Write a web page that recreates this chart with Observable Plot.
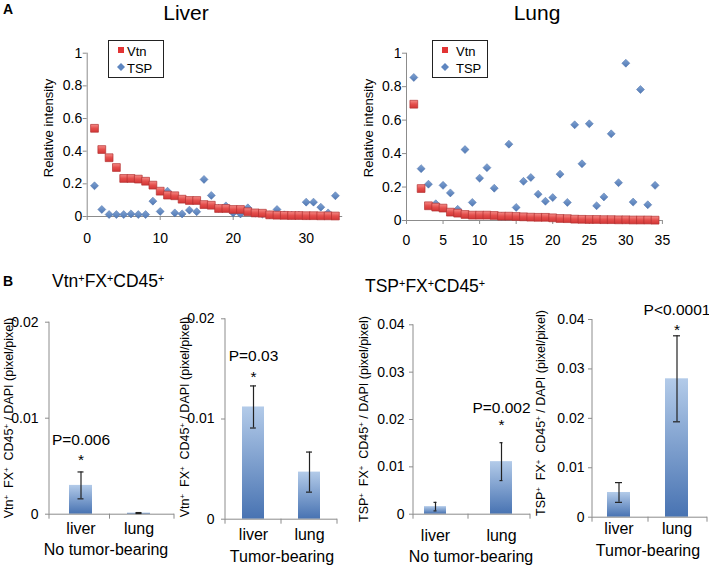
<!DOCTYPE html>
<html><head><meta charset="utf-8">
<script src="https://cdn.jsdelivr.net/npm/d3@7"></script>
<script src="https://cdn.jsdelivr.net/npm/@observablehq/plot@0.6"></script>
<style>
body{margin:0;background:#fff;}
#fig{position:relative;width:709px;height:569px;overflow:hidden;font-family:"Liberation Sans",Arial,Helvetica,sans-serif;color:#000;background:#fff;}
.abs{position:absolute;white-space:nowrap;line-height:1;}
.plotbox{position:absolute;}
sup{font-size:0.62em;vertical-align:0.5em;line-height:0;}
</style></head><body><div id="fig"></div>
<script>
// ---------- DATA ----------
const sampleIdx = d3.range(1, 35);
const liverVtn = [0.54, 0.41, 0.36, 0.30, 0.233, 0.233, 0.229, 0.216, 0.192, 0.155, 0.131, 0.127, 0.106, 0.098, 0.098, 0.073, 0.069, 0.049, 0.049, 0.043, 0.043, 0.029, 0.022, 0.02, 0.01, 0.008, 0.007, 0.006, 0.006, 0.005, 0.005, 0.004, 0.004, 0.003];
const liverTsp = [0.188, 0.043, 0.012, 0.012, 0.012, 0.016, 0.012, 0.012, 0.094, 0.031, 0.155, 0.022, 0.016, 0.039, 0.029, 0.227, 0.129, 0.05, 0.065, 0.022, 0.016, 0.053, 0.02, 0.015, 0.01, 0.043, 0.01, 0.008, 0.008, 0.088, 0.088, 0.057, 0.022, 0.127];
const lungVtn = [0.695, 0.191, 0.088, 0.08, 0.074, 0.05, 0.044, 0.036, 0.032, 0.032, 0.032, 0.03, 0.026, 0.026, 0.024, 0.022, 0.02, 0.019, 0.019, 0.016, 0.012, 0.011, 0.008, 0.007, 0.006, 0.006, 0.005, 0.005, 0.004, 0.004, 0.003, 0.003, 0.003, 0.002];
const lungTsp = [0.855, 0.31, 0.217, 0.1, 0.21, 0.165, 0.067, 0.424, 0.108, 0.253, 0.316, 0.193, 0.025, 0.456, 0.078, 0.234, 0.257, 0.157, 0.115, 0.137, 0.277, 0.108, 0.572, 0.339, 0.578, 0.088, 0.141, 0.518, 0.226, 0.94, 0.11, 0.783, 0.094, 0.21];
const scatterYTicks = [0, 0.2, 0.4, 0.6, 0.8, 1];
const liverXTicks = [0, 10, 20, 30];
const lungXTicks = [0, 5, 10, 15, 20, 25, 30, 35];

const barCats = ["liver", "lung"];
const vtnNoTumorMean = [0.0030, 0.00012];
const vtnNoTumorErr  = [0.0014, 0.00005];
const vtnTumorMean   = [0.0112, 0.0047];
const vtnTumorErr    = [0.0021, 0.0020];
const tspNoTumorMean = [0.0016, 0.0111];
const tspNoTumorErr  = [0.0009, 0.0040];
const tspTumorMean   = [0.0050, 0.0280];
const tspTumorErr    = [0.0020, 0.0087];
const pVtnNoTumor = ["P=0.006", ""];
const pVtnTumor   = ["P=0.03", ""];
const pTspNoTumor = ["", "P=0.002"];
const pTspTumor   = ["", "P<0.0001"];
const vtnYTicks = [0, 0.01, 0.02];
const tspYTicks = [0, 0.01, 0.02, 0.03, 0.04];

// ---------- STYLE ----------
const FONT = '"Liberation Sans", Arial, Helvetica, sans-serif';
const AXIS = "#8c8c8c";
const fig = document.getElementById("fig");

// gradients
const defs = d3.select(fig).append("svg").attr("width", 0).attr("height", 0)
  .style("position", "absolute").append("defs");
function grad(id, stops) {
  const g = defs.append("linearGradient").attr("id", id).attr("x1", 0).attr("y1", 0).attr("x2", 0).attr("y2", 1);
  stops.forEach(([o, c]) => g.append("stop").attr("offset", o).attr("stop-color", c));
}
grad("vtnGrad", [[0, "#f58a86"], [0.5, "#e44e4c"], [1, "#d23636"]]);
grad("tspGrad", [[0, "#7fa2d2"], [1, "#5078b4"]]);
grad("barGrad", [[0, "#b3cbe9"], [1, "#4873b2"]]);

function addText(html, x, y, {size = 15, anchor = "middle", rotate = 0, weight = "normal"} = {}) {
  const d = document.createElement("div");
  d.className = "abs";
  d.innerHTML = html;
  d.style.left = x + "px";
  d.style.top = y + "px";
  d.style.fontSize = size + "px";
  d.style.fontWeight = weight;
  const tx = anchor === "middle" ? "-50%" : anchor === "end" ? "-100%" : "0";
  d.style.transform = `translate(${tx},-50%)` + (rotate ? ` rotate(${rotate}deg)` : "");
  fig.appendChild(d);
  return d;
}

function place(plot, L, T) {
  const wrap = document.createElement("div");
  wrap.className = "plotbox";
  wrap.style.left = L + "px";
  wrap.style.top = T + "px";
  wrap.appendChild(plot);
  fig.appendChild(wrap);
}

function plotStyle(size) {
  return {fontFamily: FONT, fontSize: size + "px", color: "#000", background: "transparent", overflow: "visible"};
}

// ---------- SCATTER PANELS ----------
function scatter({box, frame, vtn, tsp, xTicks, xPad}) {
  const [L, T, W, H] = box;
  const [fx0, fx1, fy0, fy1] = frame;
  const tspRows = sampleIdx.map((s, i) => ({s, v: tsp[i]}));
  const vtnRows = sampleIdx.map((s, i) => ({s, v: vtn[i]}));
  const plot = Plot.plot({
    width: W, height: H,
    marginLeft: fx0 - L, marginRight: L + W - fx1, marginTop: fy0 - T, marginBottom: T + H - fy1,
    style: plotStyle(14),
    x: {domain: [0, 35]},
    y: {domain: [0, 1]},
    marks: [
      Plot.ruleY([0], {stroke: AXIS}),
      Plot.ruleX([0], {stroke: AXIS}),
      Plot.axisX({ticks: xTicks, tickSize: 4, tickPadding: xPad, tickFormat: d => String(d), stroke: AXIS, fill: "#000", label: null, fontSize: 14}),
      Plot.axisY({ticks: scatterYTicks, tickSize: 4, tickPadding: 1, tickFormat: d => String(d), stroke: AXIS, fill: "#000", label: null, fontSize: 14}),
      Plot.dot(tspRows, {x: "s", y: "v", symbol: "diamond2", r: 3.6, fill: "url(#tspGrad)", stroke: "#4a6fa8", strokeWidth: 0.5}),
      Plot.dot(vtnRows, {x: "s", y: "v", symbol: "square", r: 4.4, fill: "url(#vtnGrad)", stroke: "#b33232", strokeWidth: 0.7})
    ]
  });
  place(plot, L, T);
}

scatter({box: [0, 30, 355, 225], frame: [86.7, 342.2, 52.7, 216], vtn: liverVtn, tsp: liverTsp, xTicks: liverXTicks, xPad: 13});
scatter({box: [355, 30, 354, 225], frame: [406, 661.9, 52.7, 220], vtn: lungVtn, tsp: lungTsp, xTicks: lungXTicks, xPad: 11});

function legend(x0, y0, symX, textX) {
  const box = document.createElement("div");
  box.className = "abs";
  box.style.left = x0 + "px"; box.style.top = y0 + "px";
  box.style.width = "54px"; box.style.height = "36px";
  box.style.border = "1px solid #222";
  box.style.background = "#fff";
  fig.appendChild(box);
  addText('<svg width="6" height="6" style="display:block"><rect width="6" height="6" fill="#e23434"/></svg>', symX, y0 + 10, {anchor: "middle"});
  addText('<svg width="8" height="8" style="display:block"><path d="M4,0L8,4L4,8L0,4Z" fill="#5e86c0"/></svg>', symX, y0 + 27, {anchor: "middle"});
  addText("Vtn", textX, y0 + 10.5, {size: 13, anchor: "start"});
  addText("TSP", textX, y0 + 27.5, {size: 13, anchor: "start"});
}
legend(108, 40, 120.5, 127);
legend(432, 40, 444.5, 456);

addText("A", 3, 9, {size: 14, anchor: "start", weight: "bold"});
addText("Liver", 186, 12, {size: 21});
addText("Lung", 537, 12, {size: 21});
addText("Relative intensity", 48, 128, {size: 13, rotate: -90});
addText("Relative intensity", 368, 128, {size: 13, rotate: -90});

// ---------- BAR PANELS ----------
function bars({box, frame, band, pad, means, errs, pLabels, yTicks, yPad, catPad, capInset, pDy, starDy}) {
  const [L, T, W, H] = box;
  const [fx0, fx1, fy0, fy1] = frame;
  const rows = barCats.map((c, i) => ({cat: c, v: means[i], e: errs[i], p: pLabels[i]}));
  const sig = rows.filter(d => d.p);
  const bandMid = (band[0] + band[1]) / 2 - L;
  const axisLines = (index, scales, values, dims) => {
    const {width, height, marginLeft, marginRight, marginTop, marginBottom} = dims;
    const g = d3.create("svg:g").attr("stroke", AXIS).attr("stroke-width", 1).attr("fill", "none");
    const xl = marginLeft, xr = width - marginRight, yb = height - marginBottom, yt = marginTop;
    g.append("line").attr("x1", xl).attr("x2", xl).attr("y1", yt).attr("y2", yb);
    for (const x of [xl, bandMid, xr]) g.append("line").attr("x1", x).attr("x2", x).attr("y1", yb).attr("y2", yb + 5);
    return g.node();
  };
  const plot = Plot.plot({
    width: W, height: H,
    marginLeft: fx0 - L, marginRight: L + W - fx1, marginTop: fy0 - T, marginBottom: T + H - fy1,
    style: plotStyle(14),
    x: {domain: barCats, range: [band[0] - L, band[1] - L], paddingInner: pad, paddingOuter: pad / 2},
    y: {domain: [0, yTicks[yTicks.length - 1]]},
    marks: [
      Plot.barY(rows, {x: "cat", y: "v", fill: "url(#barGrad)"}),
      Plot.ruleY([0], {stroke: AXIS}),
      axisLines,
      Plot.axisY({ticks: yTicks, tickSize: 4, tickPadding: yPad, tickFormat: d => String(d), stroke: AXIS, fill: "#000", label: null, fontSize: 14}),
      Plot.axisX({tickSize: 0, tickPadding: catPad, fill: "#000", label: null, fontSize: 16}),
      Plot.ruleX(rows, {x: "cat", y1: d => d.v - d.e, y2: d => d.v + d.e, stroke: "#222", strokeWidth: 1.2}),
      Plot.tickY(rows, {x: "cat", y: d => d.v + d.e, insetLeft: capInset, insetRight: capInset, stroke: "#222", strokeWidth: 1.2}),
      Plot.tickY(rows, {x: "cat", y: d => d.v - d.e, insetLeft: capInset, insetRight: capInset, stroke: "#222", strokeWidth: 1.2}),
      Plot.text(sig, {x: "cat", y: d => d.v + d.e, text: "p", dy: pDy, fontSize: 15.5, fill: "#000"}),
      Plot.text(sig, {x: "cat", y: d => d.v + d.e, text: () => "*", dy: starDy, fontSize: 15.5, fill: "#000"})
    ]
  });
  place(plot, L, T);
}

bars({box: [0, 295, 178, 274], frame: [49, 174, 321.7, 513.7], band: [51, 168], pad: 0.6,
  means: vtnNoTumorMean, errs: vtnNoTumorErr, pLabels: pVtnNoTumor, yTicks: vtnYTicks, yPad: 7, catPad: 8, capInset: 8.5, pDy: -31.5, starDy: -12});
bars({box: [178, 295, 175, 274], frame: [225, 337, 318.3, 518.7], band: [225, 337], pad: 0.6,
  means: vtnTumorMean, errs: vtnTumorErr, pLabels: pVtnTumor, yTicks: vtnYTicks, yPad: 7, catPad: 9.5, capInset: 8, pDy: -30, starDy: -9});
bars({box: [353, 295, 178, 274], frame: [413, 530, 324.3, 513.7], band: [402, 534], pad: 0.66,
  means: tspNoTumorMean, errs: tspNoTumorErr, pLabels: pTspNoTumor, yTicks: tspYTicks, yPad: 5, catPad: 15.5, capInset: 9.5, pDy: -34.5, starDy: -17.5});
bars({box: [531, 295, 178, 274], frame: [592, 707, 319, 516.7], band: [590, 706], pad: 0.6,
  means: tspTumorMean, errs: tspTumorErr, pLabels: pTspTumor, yTicks: tspYTicks, yPad: 4, catPad: 5, capInset: 8, pDy: -26, starDy: -6});

addText("B", 3, 281, {size: 14, anchor: "start", weight: "bold"});
addText("Vtn<sup>+</sup>FX<sup>+</sup>CD45<sup>+</sup>", 52, 282, {size: 17.5, anchor: "start"});
addText("TSP<sup>+</sup>FX<sup>+</sup>CD45<sup>+</sup>", 365, 287, {size: 17.5, anchor: "start"});

const vtnAxisTitle = "Vtn<sup>+</sup>&nbsp; FX<sup>+</sup>&nbsp; CD45<sup>+</sup> / DAPI (pixel/pixel)";
const tspAxisTitle = "TSP<sup>+</sup>&nbsp; FX<sup>+</sup>&nbsp; CD45<sup>+</sup> / DAPI (pixel/pixel)";
addText(vtnAxisTitle, 9, 418, {size: 12.5, rotate: -90});
addText(vtnAxisTitle, 185, 417, {size: 12.5, rotate: -90});
addText(tspAxisTitle, 364, 419, {size: 12.5, rotate: -90});
addText(tspAxisTitle, 541, 413, {size: 12.5, rotate: -90});

addText("No tumor-bearing", 106, 550, {size: 16});
addText("Tumor-bearing", 282, 557, {size: 16});
addText("No tumor-bearing", 471, 557, {size: 16});
addText("Tumor-bearing", 648, 551, {size: 16});
</script></body></html>
